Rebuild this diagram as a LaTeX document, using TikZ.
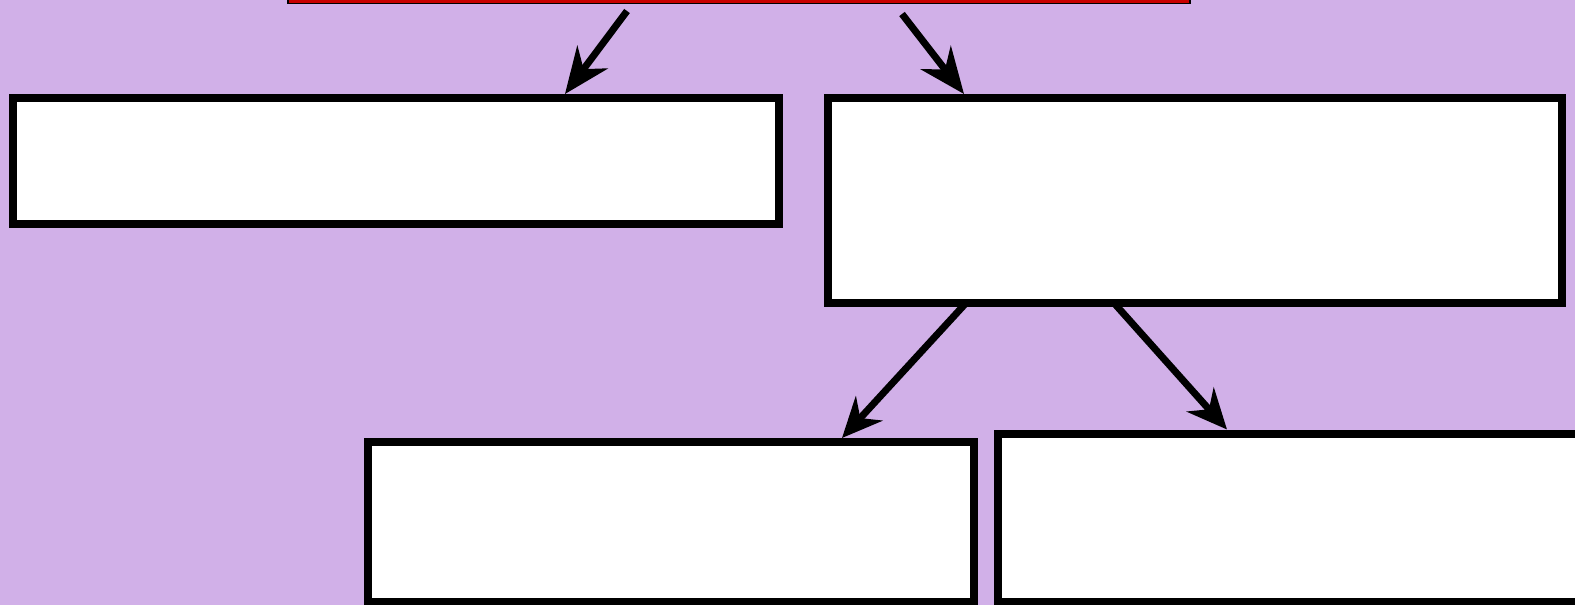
\documentclass[tikz,border=0pt]{standalone}
\usetikzlibrary{arrows.meta,calc}
\definecolor{bgpurple}{RGB}{209,176,232}
\definecolor{topred}{RGB}{200,0,0}
\tikzset{
  box/.style={draw=black, fill=white, line width=8pt, rectangle, inner sep=0pt},
  topbox/.style={draw=black, fill=topred, line width=1.5pt, rectangle, inner sep=0pt},
  bigarrow/.style={draw=black, line width=7pt, -{Stealth[length=46pt,width=38pt,inset=15pt]}},
  smallarrow/.style={draw=black, line width=7pt, -{Stealth[length=40pt,width=36pt,inset=13pt]}}
}
\begin{document}
\begin{tikzpicture}[x=1pt,y=-1pt]
\useasboundingbox (0,0) rectangle (1575,605);
\clip (0,0) rectangle (1575,605);
\fill[bgpurple] (0,0) rectangle (1575,605);
\node[topbox, minimum width=902pt, minimum height=103.5pt] (top) at (739,-48.25) {};
\node[box, minimum width=766.5pt, minimum height=126pt] (A) at (395.75,161) {};
\node[box, minimum width=734pt, minimum height=205pt] (B) at (1195,200.5) {};
\node[box, minimum width=606pt, minimum height=160pt] (C) at (671,522) {};
\node[box, minimum width=702.5pt, minimum height=168.5pt] (D) at (1348.75,517.75) {};
\coordinate (s1) at (627,11);
\coordinate (s2) at (902,14);
\coordinate (s3) at ($(966,0 |- B.south)+(0,-4)$);
\coordinate (s4) at ($(1114,0 |- B.south)+(0,-4)$);
\draw[bigarrow] (s1) -- (565,0 |- A.north);
\draw[bigarrow] (s2) -- (964,0 |- B.north);
\draw[smallarrow] (s3) -- (842,0 |- C.north);
\draw[smallarrow] (s4) -- (1227,0 |- D.north);
\end{tikzpicture}
\end{document}
